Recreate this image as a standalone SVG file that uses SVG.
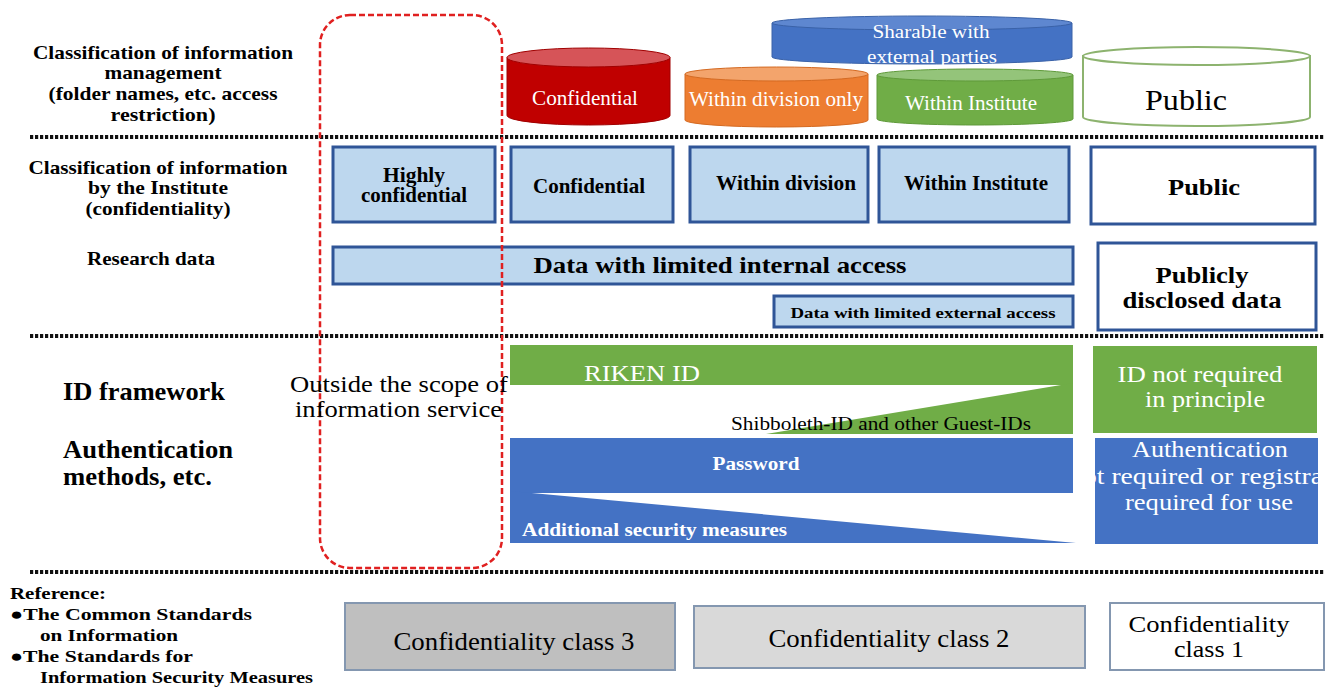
<svg xmlns="http://www.w3.org/2000/svg" width="1325" height="688" viewBox="0 0 1325 688" font-family="'Liberation Serif', 'Times New Roman', 'DejaVu Serif', serif">
<style>
svg, text{font-family:"Liberation Serif","Times New Roman","DejaVu Serif",serif}
text{fill:#000}
.b{font-weight:bold}
.m{text-anchor:middle}
.w{fill:#fff}
.box{fill:#bdd7ee;stroke:#2f5597;stroke-width:3}
.pub{fill:#fff;stroke:#2f5597;stroke-width:3}
.dot{stroke:#111;stroke-width:4;stroke-dasharray:3.2 1.8;fill:none}
.cls{stroke:#8497b0;stroke-width:2}
.gr{fill:#70ad47}
.bl{fill:#4472c4}
</style>
<rect width="1325" height="688" fill="#fff"/>

<g id="separators">
<line class="dot" x1="30" y1="137" x2="1325" y2="137"/>
<line class="dot" x1="30" y1="336" x2="1325" y2="336"/>
<line class="dot" x1="30" y1="572" x2="1325" y2="572"/>
</g>

<g id="row-labels" class="b">
<text class="m b" font-size="19" x="163" y="59" textLength="260" lengthAdjust="spacingAndGlyphs">Classification of information</text>
<text class="m b" font-size="19" x="163" y="79" textLength="117" lengthAdjust="spacingAndGlyphs">management</text>
<text class="m b" font-size="19" x="163" y="100" textLength="229" lengthAdjust="spacingAndGlyphs">(folder names, etc. access</text>
<text class="m b" font-size="19" x="163" y="121" textLength="105" lengthAdjust="spacingAndGlyphs">restriction)</text>
<text class="m b" font-size="19" x="158" y="174" textLength="259" lengthAdjust="spacingAndGlyphs">Classification of information</text>
<text class="m b" font-size="19" x="158" y="194" textLength="140" lengthAdjust="spacingAndGlyphs">by the Institute</text>
<text class="m b" font-size="19" x="158" y="215" textLength="145" lengthAdjust="spacingAndGlyphs">(confidentiality)</text>
<text class="m b" font-size="19" x="151" y="265" textLength="128" lengthAdjust="spacingAndGlyphs">Research data</text>
<text class="b" font-size="25" x="63" y="400" textLength="162" lengthAdjust="spacingAndGlyphs">ID framework</text>
<text class="b" font-size="25" x="63" y="458" textLength="170" lengthAdjust="spacingAndGlyphs">Authentication</text>
<text class="b" font-size="25" x="63" y="485" textLength="149" lengthAdjust="spacingAndGlyphs">methods, etc.</text>
</g>

<g id="reference" class="b">
<text class="b" font-size="17" x="10" y="599" textLength="96" lengthAdjust="spacingAndGlyphs">Reference:</text>
<text class="b" font-size="17" x="10" y="620" textLength="242" lengthAdjust="spacingAndGlyphs">●The Common Standards</text>
<text class="b" font-size="17" x="40" y="641" textLength="138" lengthAdjust="spacingAndGlyphs">on Information</text>
<text class="b" font-size="17" x="10" y="662" textLength="183" lengthAdjust="spacingAndGlyphs">●The Standards for</text>
<text class="b" font-size="17" x="40" y="683" textLength="273" lengthAdjust="spacingAndGlyphs">Information Security Measures</text>
</g>

<g id="cyl-sharable">
<path d="M772,23 L772,57 A150,7 0 0 0 1072,57 L1072,23 Z" fill="#4472c4" stroke="#3a62a8" stroke-width="1"/>
<ellipse cx="922" cy="23" rx="150" ry="7" fill="#5e87d0" stroke="#3a62a8" stroke-width="1"/>
</g>
<g id="cyl-institute">
<path d="M877,75 L877,119 A98,6 0 0 0 1073,119 L1073,75 Z" fill="#70ad47" stroke="#5f9a3a" stroke-width="1"/>
<ellipse cx="975" cy="75" rx="98" ry="6" fill="#94c47a" stroke="#5f9a3a" stroke-width="1"/>
<text class="m w" font-size="20" x="971" y="110" textLength="132" lengthAdjust="spacingAndGlyphs">Within Institute</text>
</g>
<g id="cyl-division">
<path d="M685,74 L685,120 A91.5,7 0 0 0 868,120 L868,74 Z" fill="#ed7d31" stroke="#d46a22" stroke-width="1"/>
<ellipse cx="776.5" cy="74" rx="91.5" ry="7" fill="#f3a46c" stroke="#d46a22" stroke-width="1"/>
<text class="m w" font-size="21" x="776" y="106" textLength="174" lengthAdjust="spacingAndGlyphs">Within division only</text>
</g>
<g id="cyl-sharable-text">
<text class="m w" font-size="19" x="931" y="38" textLength="117" lengthAdjust="spacingAndGlyphs">Sharable with</text>
<text class="m w" font-size="19" x="932" y="63" textLength="130" lengthAdjust="spacingAndGlyphs">external parties</text>
</g>
<g id="cyl-confidential">
<path d="M507,57.5 L507,115.5 A81.5,9.5 0 0 0 670,115.5 L670,57.5 Z" fill="#c00000" stroke="#a00000" stroke-width="1"/>
<ellipse cx="588.5" cy="57.5" rx="81.5" ry="9.5" fill="#d65458" stroke="#a00000" stroke-width="1"/>
<text class="m w" font-size="21" x="585" y="105" textLength="106" lengthAdjust="spacingAndGlyphs">Confidential</text>
</g>
<g id="cyl-public">
<path d="M1083,56 L1083,117 A113.5,9 0 0 0 1310,117 L1310,56 Z" fill="#fff" stroke="#8db36f" stroke-width="2"/>
<ellipse cx="1196.5" cy="56" rx="113.5" ry="9" fill="#fff" stroke="#8db36f" stroke-width="2"/>
<text class="m" font-size="30" x="1186" y="110" textLength="82" lengthAdjust="spacingAndGlyphs">Public</text>
</g>

<g id="cls-highly">
<rect class="box" x="333" y="147" width="162" height="75"/>
<text class="m b" font-size="20" x="414" y="182" textLength="62" lengthAdjust="spacingAndGlyphs">Highly</text>
<text class="m b" font-size="20" x="414" y="202" textLength="106" lengthAdjust="spacingAndGlyphs">confidential</text>
</g>
<g id="cls-confidential">
<rect class="box" x="511" y="147" width="162" height="75"/>
<text class="m b" font-size="20" x="589" y="193" textLength="112" lengthAdjust="spacingAndGlyphs">Confidential</text>
</g>
<g id="cls-division">
<rect class="box" x="690" y="147" width="178" height="75"/>
<text class="m b" font-size="20" x="786" y="190" textLength="140" lengthAdjust="spacingAndGlyphs">Within division</text>
</g>
<g id="cls-institute">
<rect class="box" x="879" y="147" width="190" height="75"/>
<text class="m b" font-size="20" x="976" y="190" textLength="144" lengthAdjust="spacingAndGlyphs">Within Institute</text>
</g>
<g id="cls-public">
<rect class="pub" x="1091" y="147" width="224" height="77"/>
<text class="m b" font-size="24" x="1204" y="195" textLength="72" lengthAdjust="spacingAndGlyphs">Public</text>
</g>
<g id="data-internal">
<rect class="box" x="333" y="247" width="740" height="37"/>
<text class="m b" font-size="23" x="720" y="273" textLength="373" lengthAdjust="spacingAndGlyphs">Data with limited internal access</text>
</g>
<g id="data-external">
<rect class="box" x="774" y="296" width="299" height="31"/>
<text class="m b" font-size="15" x="923" y="318" textLength="265" lengthAdjust="spacingAndGlyphs">Data with limited external access</text>
</g>
<g id="data-public">
<rect class="pub" x="1098" y="243" width="218" height="87"/>
<text class="m b" font-size="24" x="1202" y="283" textLength="93" lengthAdjust="spacingAndGlyphs">Publicly</text>
<text class="m b" font-size="24" x="1202" y="308" textLength="159" lengthAdjust="spacingAndGlyphs">disclosed data</text>
</g>

<g id="riken-id">
<rect class="gr" x="510" y="345" width="563" height="40"/>
<polygon class="gr" points="1073,383 1073,434 766,434"/>
<text class="w" font-size="24" x="584" y="381" textLength="116" lengthAdjust="spacingAndGlyphs">RIKEN ID</text>
<text font-size="18" x="731" y="430" textLength="300" lengthAdjust="spacingAndGlyphs">Shibboleth-ID and other Guest-IDs</text>
</g>
<g id="password">
<rect class="bl" x="510" y="438" width="563" height="55"/>
<text class="m w b" font-size="18" x="756" y="470" textLength="87" lengthAdjust="spacingAndGlyphs">Password</text>
</g>
<g id="additional-security">
<polygon class="bl" points="510,491 1076,543 510,543"/>
<text class="w b" font-size="18" x="522" y="536" textLength="265" lengthAdjust="spacingAndGlyphs">Additional security measures</text>
</g>
<g id="id-not-required">
<rect class="gr" x="1093" y="346" width="224" height="87"/>
<text class="m w" font-size="24" x="1200" y="382" textLength="165" lengthAdjust="spacingAndGlyphs">ID not required</text>
<text class="m w" font-size="24" x="1205" y="407" textLength="120" lengthAdjust="spacingAndGlyphs">in principle</text>
</g>
<g id="auth-not-required">
<rect class="bl" x="1095" y="438" width="223" height="106"/>
<text class="m w" font-size="24" x="1210" y="457" textLength="156" lengthAdjust="spacingAndGlyphs">Authentication</text>
<text class="w" font-size="24" x="1083" y="484" textLength="240" lengthAdjust="spacingAndGlyphs">ot required or registra</text>
<text class="m w" font-size="24" x="1209" y="510" textLength="168" lengthAdjust="spacingAndGlyphs">required for use</text>
</g>

<g id="class3">
<rect class="cls" x="345" y="603" width="330" height="67" fill="#bfbfbf"/>
<text class="m" font-size="26" x="514" y="650" textLength="241" lengthAdjust="spacingAndGlyphs">Confidentiality class 3</text>
</g>
<g id="class2">
<rect class="cls" x="694" y="606" width="391" height="62" fill="#d9d9d9"/>
<text class="m" font-size="26" x="889" y="647" textLength="241" lengthAdjust="spacingAndGlyphs">Confidentiality class 2</text>
</g>
<g id="class1">
<rect class="cls" x="1110" y="603" width="214" height="67" fill="#fff"/>
<text class="m" font-size="23" x="1209" y="632" textLength="161" lengthAdjust="spacingAndGlyphs">Confidentiality</text>
<text class="m" font-size="23" x="1209" y="657" textLength="70" lengthAdjust="spacingAndGlyphs">class 1</text>
</g>

<g id="outside-scope">
<rect x="320" y="15" width="182" height="553" rx="30" ry="30" fill="none" stroke="#e02020" stroke-width="2.5" stroke-dasharray="6 3"/>
<text font-size="23" x="290" y="392" textLength="218" lengthAdjust="spacingAndGlyphs">Outside the scope of</text>
<text font-size="23" x="295" y="417" textLength="207" lengthAdjust="spacingAndGlyphs">information service</text>
</g>
</svg>
